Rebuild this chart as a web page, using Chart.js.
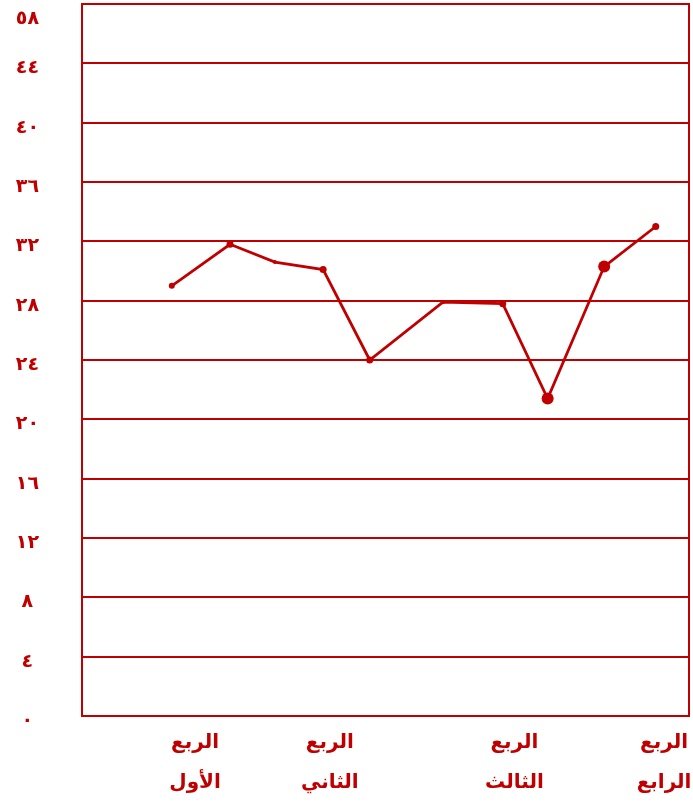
<!DOCTYPE html>
<html lang="ar">
<head>
<meta charset="utf-8">
<title>الربع</title>
<script src="https://cdn.jsdelivr.net/npm/chart.js@4"></script>
<style>
    html, body { margin: 0; padding: 0; background: #fff; }
    #wrap { width: 693px; height: 804px; }
</style>
</head>
<body>
<div id="wrap"><canvas id="quarterChart"></canvas></div>
<script>
// Day of year for each reading
const readingDays = [54, 89, 116, 145, 173, 217, 253, 280, 314, 345];
// Reading values
const readingValues = [29.0, 31.8, 30.6, 30.1, 24.0, 27.9, 27.8, 21.4, 30.3, 33.0];

// Quarter labels along the bottom
const quarterDays = [68, 149, 260, 350];
const quarterLabels = [
    ['الربع', 'الأول'],
    ['الربع', 'الثاني'],
    ['الربع', 'الثالث'],
    ['الربع', 'الرابع']
];

// Value axis labels, bottom to top
const yTickLabels = ['٠', '٤', '٨', '١٢', '١٦', '٢٠', '٢٤', '٢٨', '٣٢', '٣٦', '٤٠', '٤٤', '٥٨'];

const red = '#c00000';

new Chart(document.getElementById('quarterChart'), {
    type: 'line',
    data: {
        datasets: [{
            data: readingDays.map((d, i) => ({ x: d, y: readingValues[i] })),
            borderColor: red,
            backgroundColor: red,
            borderWidth: 2.8,
            pointRadius: [3, 3.5, 2, 3.5, 3.5, 2, 3.5, 6, 6, 3.5],
            pointBorderWidth: 0,
            tension: 0
        }]
    },
    options: {
        responsive: true,
        maintainAspectRatio: false,
        animation: false,
        layout: { padding: { top: 2, right: 0, left: 0, bottom: 0 } },
        plugins: {
            legend: { display: false },
            tooltip: { enabled: false }
        },
        scales: {
            x: {
                type: 'linear',
                min: 0,
                max: 365,
                afterBuildTicks: scale => {
                    scale.ticks = quarterDays.map(v => ({ value: v }));
                },
                afterFit: scale => {
                    scale.height = 88;
                    scale.paddingLeft = 0;
                    scale.paddingRight = 0;
                },
                grid: { display: false, drawTicks: false },
                border: { color: red, width: 2 },
                ticks: {
                    color: red,
                    font: { family: 'DejaVu Sans', size: 20, weight: 'bold', lineHeight: 2 },
                    padding: 7,
                    maxRotation: 0,
                    autoSkip: false,
                    callback: (value, index) => quarterLabels[index]
                }
            },
            y: {
                min: 0,
                max: 48,
                afterBuildTicks: scale => {
                    scale.ticks = yTickLabels.map((_, i) => ({ value: i * 4 }));
                },
                afterFit: scale => {
                    scale.width = 82;
                    scale.paddingTop = 0;
                    scale.paddingBottom = 0;
                },
                grid: { color: red, lineWidth: 2, drawTicks: false },
                border: { color: red, width: 2 },
                ticks: {
                    color: red,
                    font: { family: 'DejaVu Sans', size: 19, weight: 'bold', lineHeight: 1.1 },
                    crossAlign: 'center',
                    padding: 43,
                    labelOffset: 5,
                    autoSkip: false,
                    // top label sits lower so it stays inside the canvas
                    callback: (value, index) => index === yTickLabels.length - 1
                        ? ['', yTickLabels[index]]
                        : yTickLabels[index]
                }
            },
            yRight: {
                position: 'right',
                min: 0,
                max: 48,
                afterFit: scale => {
                    scale.width = 3;
                    scale.paddingTop = 0;
                    scale.paddingBottom = 0;
                },
                grid: { display: false, drawTicks: false },
                border: { color: red, width: 2 },
                ticks: { display: false }
            }
        }
    }
});
</script>
</body>
</html>
